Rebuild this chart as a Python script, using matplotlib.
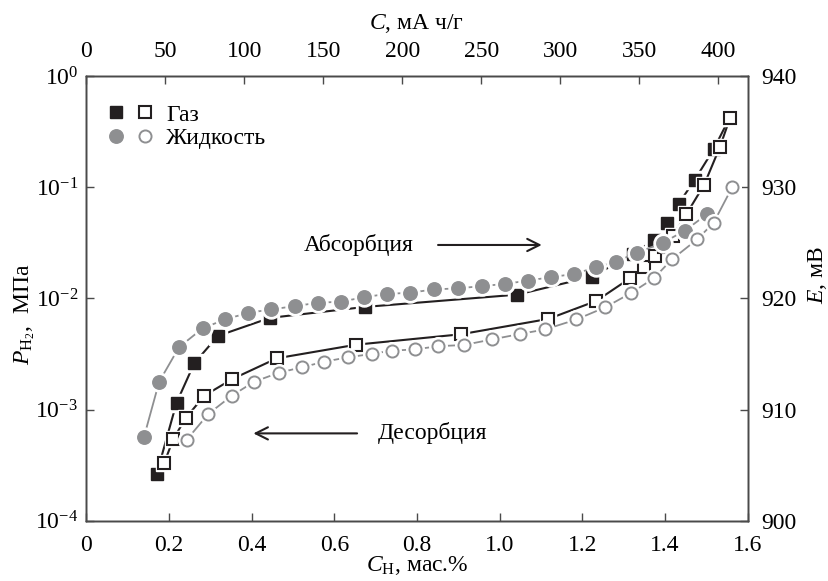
import numpy as np
import matplotlib
matplotlib.use("Agg")
import matplotlib.pyplot as plt
from matplotlib.lines import Line2D
from matplotlib.legend_handler import HandlerTuple
from matplotlib.ticker import NullLocator

plt.rcParams['font.family'] = ['Liberation Serif', 'DejaVu Serif']
plt.rcParams['font.size'] = 17
plt.rcParams['mathtext.fontset'] = 'custom'
plt.rcParams['mathtext.rm'] = 'Liberation Serif'
plt.rcParams['mathtext.it'] = 'Liberation Serif:italic'

# Gas phase, absorption (filled squares): C_H (wt.%), P_H2 (MPa)
gas_abs_x = [0.170, 0.218, 0.261, 0.318, 0.444, 0.674, 1.043, 1.224, 1.324,
             1.373, 1.405, 1.433, 1.472, 1.518, 1.558]
gas_abs_p = [2.64e-4, 1.15e-3, 2.61e-3, 4.59e-3, 6.67e-3, 8.37e-3, 1.08e-2,
             1.57e-2, 2.51e-2, 3.35e-2, 4.77e-2, 7.06e-2, 0.116, 0.219, 0.430]

# Gas phase, desorption (open squares)
gas_des_x = [0.188, 0.210, 0.240, 0.285, 0.353, 0.461, 0.653, 0.906, 1.118,
             1.234, 1.315, 1.349, 1.377, 1.399, 1.419, 1.452, 1.495, 1.533, 1.558]
gas_des_p = [3.29e-4, 5.41e-4, 8.35e-4, 1.33e-3, 1.88e-3, 2.89e-3, 3.83e-3,
             4.75e-3, 6.53e-3, 9.48e-3, 1.51e-2, 1.91e-2, 2.38e-2, 2.88e-2,
             3.66e-2, 5.71e-2, 0.105, 0.229, 0.422]

# Liquid (electrochemical), absorption (filled grey circles): E (mV)
liq_abs_x = [0.139, 0.176, 0.224, 0.281, 0.335, 0.392, 0.447, 0.504, 0.560,
             0.616, 0.672, 0.727, 0.783, 0.840, 0.899, 0.957, 1.014, 1.069,
             1.124, 1.181, 1.234, 1.282, 1.332, 1.395, 1.449, 1.503]
liq_abs_e = [907.5, 912.5, 915.6, 917.3, 918.1, 918.7, 919.0, 919.3, 919.6,
             919.7, 920.1, 920.4, 920.5, 920.8, 920.9, 921.1, 921.3, 921.6,
             921.9, 922.2, 922.8, 923.3, 924.1, 925.0, 926.1, 927.6]

# Liquid, desorption (open grey circles)
liq_des_x = [0.243, 0.295, 0.352, 0.406, 0.465, 0.521, 0.576, 0.633, 0.691,
             0.739, 0.794, 0.852, 0.913, 0.981, 1.050, 1.110, 1.186, 1.256,
             1.319, 1.373, 1.417, 1.478, 1.518, 1.563]
liq_des_e = [907.3, 909.6, 911.25, 912.5, 913.3, 913.8, 914.3, 914.7, 915.0,
             915.3, 915.4, 915.7, 915.8, 916.3, 916.8, 917.2, 918.1, 919.2,
             920.5, 921.8, 923.5, 925.3, 926.8, 930.0]

x_ticks = [0, 0.2, 0.4, 0.6, 0.8, 1.0, 1.2, 1.4, 1.6]
x_tick_labels = ['0', '0.2', '0.4', '0.6', '0.8', '1.0', '1.2', '1.4', '1.6']
cap_ticks = [0, 50, 100, 150, 200, 250, 300, 350, 400]
e_ticks = [900, 910, 920, 930, 940]

BLACK = '#231f20'
GREY = '#8e8f91'
AXC = '#4a4a4a'


def draw_series(axis, x, y, marker, face, edge, ms, mew, lc, lw, z):
    # line, white halo (gap round markers), then the markers
    axis.plot(x, y, '-', color=lc, lw=lw, zorder=z)
    axis.plot(x, y, ls='none', marker=marker, ms=ms + 4, mfc='white',
              mec='white', zorder=z + 1)
    axis.plot(x, y, ls='none', marker=marker, ms=ms, mfc=face, mec=edge,
              mew=mew, zorder=z + 2)


fig = plt.figure(figsize=(8.29, 5.81), dpi=100)
ax = fig.add_axes([0.1043, 0.1038, 0.7974, 0.7654])
ax.set_yscale('log')
ax.set_xlim(0, 1.6)
ax.set_ylim(1e-4, 1)
ax.set_xticks(x_ticks)
ax.set_xticklabels(x_tick_labels)
ax.set_yticks([1e-4, 1e-3, 1e-2, 1e-1, 1])
ax.yaxis.set_minor_locator(NullLocator())

draw_series(ax, gas_abs_x, gas_abs_p, 's', BLACK, BLACK, 9, 1.0, BLACK, 1.5, 2)
draw_series(ax, gas_des_x, gas_des_p, 's', 'white', BLACK, 8.2, 1.5, BLACK, 1.5, 5)

ax_top = ax.twiny()
ax_top.set_xlim(0, 418.4)
ax_top.set_xticks(cap_ticks)

ax_r = ax.twinx()
ax_r.set_ylim(900, 940)
ax_r.set_yticks(e_ticks)

draw_series(ax_r, liq_abs_x, liq_abs_e, 'o', GREY, GREY, 9.7, 1.0, GREY, 1.3, 8)
draw_series(ax_r, liq_des_x, liq_des_e, 'o', 'white', GREY, 8.7, 1.4, GREY, 1.3, 11)

for a in (ax, ax_top, ax_r):
    for s in a.spines.values():
        s.set_color(AXC)
        s.set_linewidth(1.0)

ax.tick_params(axis='x', direction='in', length=6, width=1.0, color=AXC, pad=10)
ax.tick_params(axis='y', direction='in', length=6, width=1.0, color=AXC, pad=6)
ax_top.tick_params(axis='x', direction='in', length=6, width=1.0, color=AXC, pad=10)
ax_r.tick_params(axis='y', direction='in', length=6, width=1.0, color=AXC, pad=10)

ax.set_xlabel(r'$C_{\mathrm{Н}}$, мас.%')
ax.xaxis.set_label_coords(0.5, -0.075)
ax.set_ylabel(r'$P_{\mathrm{Н}_{2}}$,  МПа')
ax.yaxis.set_label_coords(-0.075, 0.465)
ax_top.set_xlabel(r'$C$, мА ч/г')
ax_top.xaxis.set_label_coords(0.5, 1.105)
ax_r.set_ylabel(r'$E$, мВ')
ax_r.yaxis.set_label_coords(1.088, 0.5525)

# arrows with captions
ax.annotate('', xy=(1.102, 0.0302), xytext=(0.851, 0.0302),
            arrowprops=dict(arrowstyle='->', color=BLACK, lw=1.5,
                            mutation_scale=22, shrinkA=0, shrinkB=0))
ax.text(0.658, 0.0302, 'Абсорбция', ha='center', va='center')
ax.annotate('', xy=(0.404, 6.1e-4), xytext=(0.655, 6.1e-4),
            arrowprops=dict(arrowstyle='->', color=BLACK, lw=1.5,
                            mutation_scale=22, shrinkA=0, shrinkB=0))
ax.text(0.837, 6.1e-4, 'Десорбция', ha='center', va='center')

# legend: two markers per row
h_gas = (Line2D([], [], ls='none', marker='s', ms=9, mfc=BLACK, mec=BLACK),
         Line2D([], [], ls='none', marker='s', ms=8.2, mfc='white', mec=BLACK, mew=1.5))
h_liq = (Line2D([], [], ls='none', marker='o', ms=9.7, mfc=GREY, mec=GREY),
         Line2D([], [], ls='none', marker='o', ms=8.7, mfc='white', mec=GREY, mew=1.4))
ax_r.legend([h_gas, h_liq], ['Газ', 'Жидкость'],
            handler_map={tuple: HandlerTuple(ndivide=None, pad=0)},
            loc='upper left', bbox_to_anchor=(0.024, 0.937), borderaxespad=0,
            borderpad=0, frameon=False, handlelength=2.4, handletextpad=0.3,
            labelspacing=0.1)

fig.savefig('out.png', dpi=100)
